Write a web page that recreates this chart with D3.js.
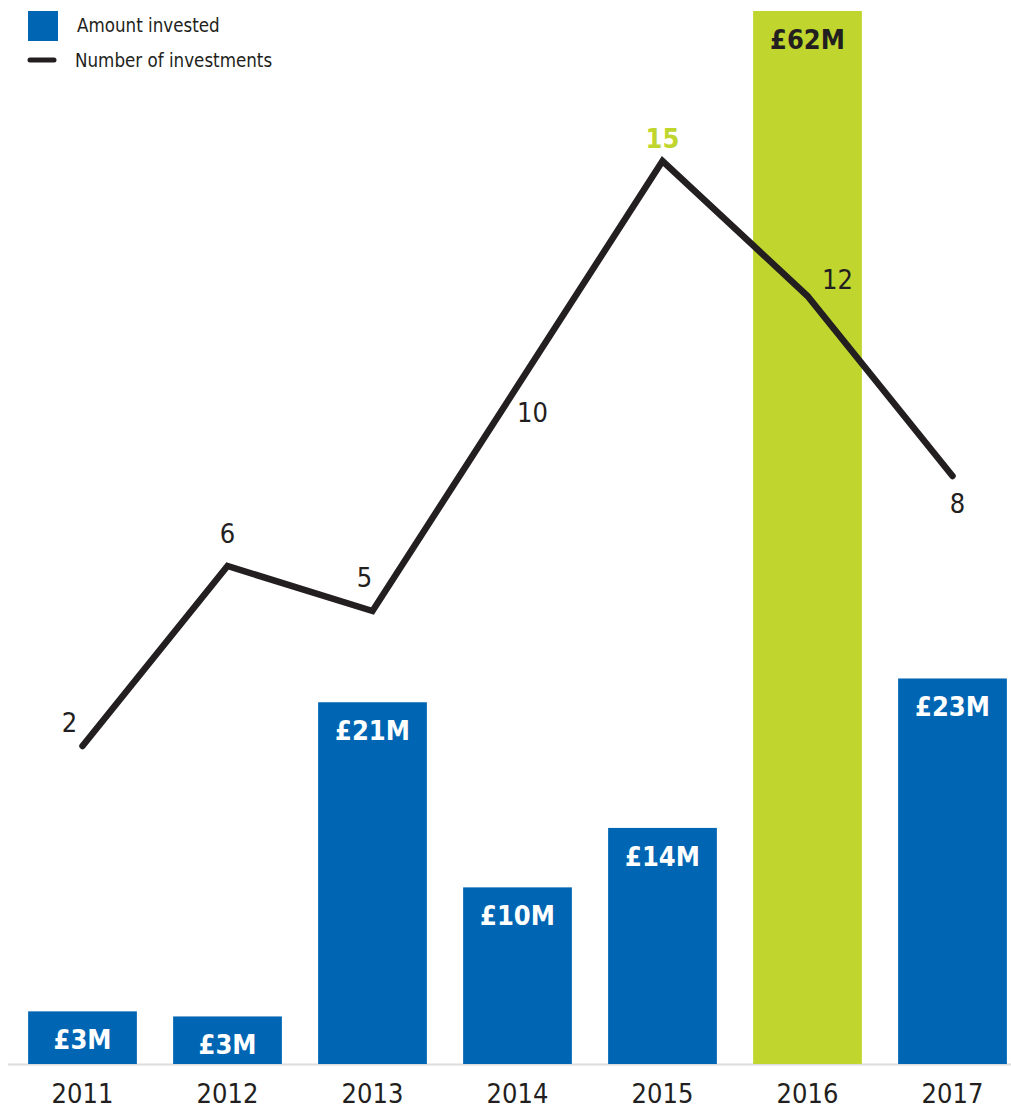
<!DOCTYPE html>
<html><head><meta charset="utf-8">
<script src="https://cdn.jsdelivr.net/npm/d3@7"></script>
<style>html,body{margin:0;padding:0;background:#fff;}svg{display:block;}</style>
</head><body>
<svg id="chart" width="1011" height="1109"></svg>
<script>
// ---- data ----
const years = ["2011","2012","2013","2014","2015","2016","2017"];
const amounts = [3.1, 2.8, 21.3, 10.4, 13.9, 62, 22.7];      // £M
const amountLabels = ["£3M","£3M","£21M","£10M","£14M","£62M","£23M"];
const investments = [2, 6, 5, 10, 15, 12, 8];
const highlightYear = "2016";
const peakYear = "2015";
const legendLabels = ["Amount invested", "Number of investments"];

// ---- layout / style ----
const BLUE = "#0066b3", GREEN = "#c0d62e", DARK = "#231f20";
const FONT = "'DejaVu Sans Condensed','DejaVu Sans',sans-serif";
const baseY = 1064;
// offsets of number labels relative to their points (dx, dy)
const numLabelOffsets = [[-13,-24],[0,-33],[-8,-34],[15,26],[0,-23],[30,-17],[5,27]];

const svg = d3.select("#chart");
const x = d3.scaleBand().domain(years).range([10, 1025]).paddingInner(0.25).paddingOuter(0.125);
const yBar = d3.scaleLinear().domain([0, 62]).range([baseY, 11]);
const yLine = d3.scaleLinear().domain([0, 15]).range([836, 161]);

const rows = years.map((y, i) => ({year: y, amt: amounts[i], lbl: amountLabels[i], n: investments[i], off: numLabelOffsets[i]}));

// baseline
svg.append("line").attr("x1", 8).attr("x2", 1011).attr("y1", baseY + 0.5).attr("y2", baseY + 0.5)
  .attr("stroke", "#dcdcdc").attr("stroke-width", 2);

// bars
svg.selectAll("rect.bar").data(rows).join("rect").attr("class", "bar")
  .attr("x", d => x(d.year)).attr("width", x.bandwidth())
  .attr("y", d => yBar(d.amt)).attr("height", d => baseY - yBar(d.amt))
  .attr("fill", d => d.year === highlightYear ? GREEN : BLUE);

// bar labels
svg.selectAll("text.blbl").data(rows).join("text").attr("class", "blbl")
  .attr("x", d => x(d.year) + x.bandwidth() / 2)
  .attr("y", d => yBar(d.amt) + 38)
  .attr("text-anchor", "middle")
  .attr("font-family", FONT).attr("font-weight", "bold").attr("font-size", 27)
  .attr("fill", d => d.year === highlightYear ? DARK : "#fff")
  .text(d => d.lbl);

// year axis labels
svg.selectAll("text.year").data(rows).join("text").attr("class", "year")
  .attr("x", d => x(d.year) + x.bandwidth() / 2).attr("y", 1103)
  .attr("text-anchor", "middle").attr("font-family", FONT).attr("font-size", 27)
  .attr("fill", DARK).text(d => d.year);

// line
const line = d3.line().x(d => x(d.year) + x.bandwidth() / 2).y(d => yLine(d.n));
svg.append("path").datum(rows).attr("d", line).attr("fill", "none")
  .attr("stroke", DARK).attr("stroke-width", 6.5).attr("stroke-linejoin", "miter").attr("stroke-linecap", "round");

// line labels
svg.selectAll("text.nlbl").data(rows).join("text").attr("class", "nlbl")
  .attr("x", d => x(d.year) + x.bandwidth() / 2 + d.off[0])
  .attr("y", d => yLine(d.n) + d.off[1])
  .attr("dy", "0.36em")
  .attr("text-anchor", "middle").attr("font-family", FONT).attr("font-size", 27)
  .attr("font-weight", d => d.year === peakYear ? "bold" : "normal")
  .attr("fill", d => d.year === peakYear ? GREEN : DARK)
  .text(d => d.n);

// legend
const lg = svg.append("g");
lg.append("rect").attr("x", 28).attr("y", 11).attr("width", 30).attr("height", 30).attr("fill", BLUE);
lg.append("text").attr("x", 77).attr("y", 25).attr("dy", "0.36em").attr("font-family", FONT).attr("font-size", 18.6)
  .attr("fill", DARK).text(legendLabels[0]);
lg.append("line").attr("x1", 30).attr("x2", 54).attr("y1", 60).attr("y2", 60)
  .attr("stroke", DARK).attr("stroke-width", 5).attr("stroke-linecap", "round");
lg.append("text").attr("x", 75).attr("y", 60).attr("dy", "0.36em").attr("font-family", FONT).attr("font-size", 18.6)
  .attr("fill", DARK).text(legendLabels[1]);
</script>
</body></html>
